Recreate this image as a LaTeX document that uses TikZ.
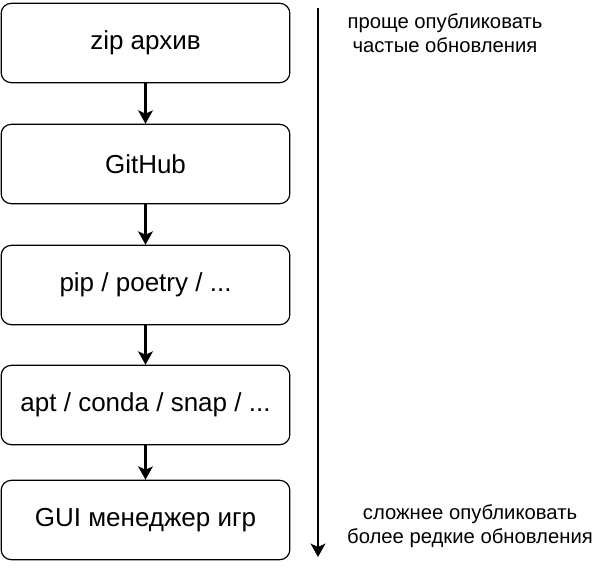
\documentclass[tikz,border=0pt]{standalone}
\usepackage{fontspec}
\setmainfont{Liberation Sans}
\usetikzlibrary{arrows.meta}
\begin{document}
\begin{tikzpicture}[x=0.75pt,y=-0.75pt,
  stepbox/.style={draw=black,line width=0.9pt,rounded corners=7.5pt,minimum width=216.5pt,minimum height=59.5pt,inner sep=0pt,font=\fontsize{19.5}{23}\selectfont},
  flow/.style={line width=2.2pt,-{Stealth[length=10pt,width=11pt,inset=2.5pt]}},
  side/.style={font=\fontsize{15.2}{18.2}\selectfont,align=center}]
\useasboundingbox (0,0) rectangle (611,569);
\node[stepbox] (a) at (145.5,43) {zip архив};
\node[stepbox] (b) at (145.5,164) {GitHub};
\node[stepbox] (c) at (145.5,285) {pip / poetry / ...};
\node[stepbox] (d) at (145.5,405) {apt / conda / snap / ...};
\node[stepbox] (e) at (145.5,520) {GUI менеджер игр};
\draw[flow] (a) -- (b);
\draw[flow] (b) -- (c);
\draw[flow] (c) -- (d);
\draw[flow] (d) -- (e);
\coordinate (top) at (318,8);
\coordinate (bot) at (318,557);
\draw[flow] (top) -- (bot);
\node[side] (t1) at (445,33) {проще опубликовать\\частые обновления};
\node[side] (t2) at (470,526) {сложнее опубликовать\\более редкие обновления};
\end{tikzpicture}
\end{document}
